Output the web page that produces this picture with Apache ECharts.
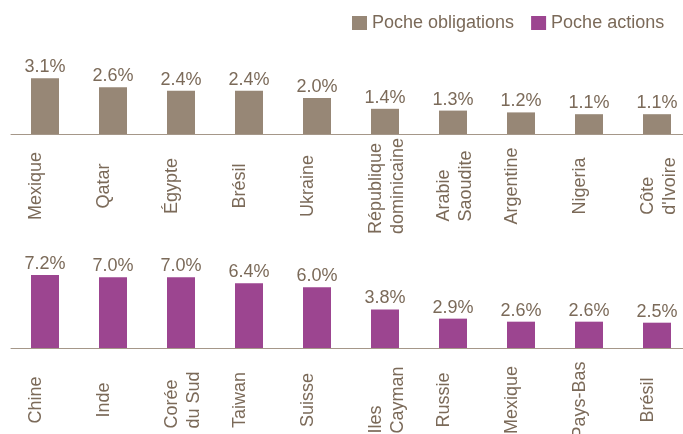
<!DOCTYPE html>
<html>
<head>
<meta charset="utf-8">
<script src="https://cdn.jsdelivr.net/npm/echarts@6/dist/echarts.min.js"></script>
<style>html,body{margin:0;padding:0;background:#fff;overflow:hidden}#c{width:700px;height:434px}</style>
</head>
<body>
<div id="c"></div>
<script>
var bondCountries = ['Mexique','Qatar','Égypte','Brésil','Ukraine','République\ndominicaine','Arabie\nSaoudite','Argentine','Nigeria','Côte\nd\'Ivoire'];
var bondValues = [3.1, 2.6, 2.4, 2.4, 2.0, 1.4, 1.3, 1.2, 1.1, 1.1];
var equityCountries = ['Chine','Inde','Corée\ndu Sud','Taiwan','Suisse','Iles\nCayman','Russie','Mexique','Pays-Bas','Brésil'];
var equityValues = [7.2, 7.0, 7.0, 6.4, 6.0, 3.8, 2.9, 2.6, 2.6, 2.5];
var seriesNames = ['Poche obligations', 'Poche actions'];

var FONT = '"Liberation Sans", Arial, sans-serif';
var TXT = '#7b6a59';
var BROWN = '#978776';
var PURPLE = '#9c4590';
var AXIS = '#a59789';

function catFormatter(v) {
  var lines = v.split('\n');
  if (lines.length < 2) lines.push(' ');
  return lines.map(function (l) { return '{a|' + l + '}'; }).join('\n');
}

function xAxis(idx, data) {
  return {
    type: 'category', gridIndex: idx, data: data,
    axisLine: { lineStyle: { color: AXIS, width: 1 } },
    axisTick: { show: false },
    axisLabel: {
      interval: 0, rotate: 90, margin: 52,
      align: 'center', verticalAlign: 'middle',
      padding: [4, 0, 0, 0],
      formatter: catFormatter,
      rich: { a: { fontFamily: FONT, fontSize: 18, color: TXT, align: 'left', lineHeight: 22 } }
    }
  };
}

var option = {
  animation: false,
  textStyle: { fontFamily: FONT },
  legend: {
    left: 352, top: 14, padding: 0,
    itemWidth: 15, itemHeight: 14, itemGap: 17,
    icon: 'rect',
    textStyle: { fontFamily: FONT, fontSize: 18, color: TXT },
    data: seriesNames
  },
  grid: [
    { left: 11, width: 680, top: 62, height: 72, containLabel: false, outerBoundsMode: 'none' },
    { left: 11, width: 680, top: 267, height: 81, containLabel: false, outerBoundsMode: 'none' }
  ],
  xAxis: [xAxis(0, bondCountries), xAxis(1, equityCountries)],
  yAxis: [
    { type: 'value', gridIndex: 0, min: 0, max: 4, show: false },
    { type: 'value', gridIndex: 1, min: 0, max: 8, show: false }
  ],
  series: [
    {
      name: seriesNames[0], type: 'bar', xAxisIndex: 0, yAxisIndex: 0,
      data: bondValues, barWidth: 28, itemStyle: { color: BROWN },
      label: { show: true, position: 'top', distance: 2, fontFamily: FONT, fontSize: 18, color: TXT,
        formatter: function (p) { return p.value.toFixed(1) + '%'; } }
    },
    {
      name: seriesNames[1], type: 'bar', xAxisIndex: 1, yAxisIndex: 1,
      data: equityValues, barWidth: 28, itemStyle: { color: PURPLE },
      label: { show: true, position: 'top', distance: 2, fontFamily: FONT, fontSize: 18, color: TXT,
        formatter: function (p) { return p.value.toFixed(1) + '%'; } }
    }
  ]
};
var chart = echarts.init(document.getElementById('c'), null, { renderer: 'canvas' });
chart.setOption(option);
</script>
</body>
</html>
